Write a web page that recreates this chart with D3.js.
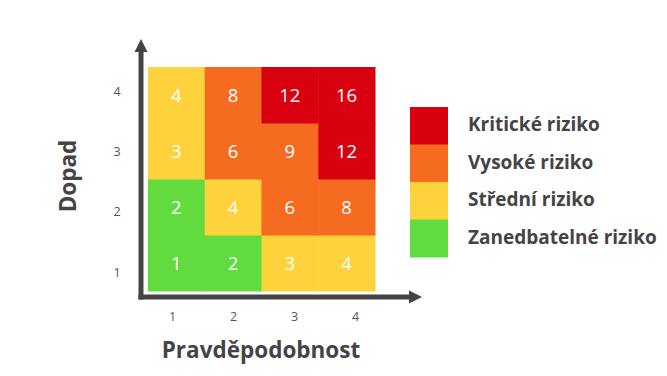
<!DOCTYPE html>
<html><head><meta charset="utf-8">
<script src="https://cdn.jsdelivr.net/npm/d3@7"></script>
<style>html,body{margin:0;padding:0;background:#fff;}svg{display:block;}</style>
</head><body>
<svg id="c" width="667" height="376"></svg>
<script>
const probability = [1, 2, 3, 4];
const impact = [1, 2, 3, 4];
const riskLevels = ["Kritické riziko", "Vysoké riziko", "Střední riziko", "Zanedbatelné riziko"];
const riskColors = ["#d90010", "#f56b1f", "#fdd23c", "#62db3e"];
// level index per cell: rows = impact 1..4, cols = probability 1..4
const cellLevel = [
  [3, 3, 2, 2],
  [3, 2, 1, 1],
  [2, 1, 1, 0],
  [2, 1, 0, 0]
];
const xTitle = "Pravděpodobnost";
const yTitle = "Dopad";

const svg = d3.select("#c");
const dark = "#444";
const titleFont = "Open Sans";

const x = d3.scaleBand().domain(probability).range([148, 375]);
const y = d3.scaleBand().domain(impact).range([291, 67]);
const xt = d3.scalePoint().domain(probability).range([172, 355]);
const yt = d3.scalePoint().domain(impact).range([272, 91]);

const cells = [];
impact.forEach((im, i) => probability.forEach((p, j) => cells.push({p, im, v: p * im, lvl: cellLevel[i][j]})));

svg.append("g").selectAll("rect").data(cells).join("rect")
  .attr("x", d => x(d.p)).attr("y", d => y(d.im))
  .attr("width", x.bandwidth() + 0.5).attr("height", y.bandwidth() + 0.5)
  .attr("fill", d => riskColors[d.lvl]);

svg.append("g").selectAll("text").data(cells).join("text")
  .attr("x", d => x(d.p) + x.bandwidth() / 2)
  .attr("y", d => y(d.im) + y.bandwidth() / 2)
  .attr("dy", "0.36em").attr("text-anchor", "middle")
  .attr("fill", "#fff").attr("font-family", "Open Sans").attr("font-weight", 500).attr("font-size", 18.5)
  .text(d => d.v);

// arrows
const defs = svg.append("defs");
defs.append("marker").attr("id", "ar").attr("viewBox", "0 0 10 10")
  .attr("refX", 0).attr("refY", 5).attr("markerUnits", "userSpaceOnUse")
  .attr("markerWidth", 13).attr("markerHeight", 14).attr("orient", "auto")
  .append("path").attr("d", "M0,0 L10,5 L0,10 Z").attr("fill", dark);

const ox = 141, oy = 297;
svg.append("line").attr("x1", ox).attr("y1", oy + 2.5).attr("x2", ox).attr("y2", 52)
  .attr("stroke", dark).attr("stroke-width", 5).attr("marker-end", "url(#ar)");
svg.append("line").attr("x1", ox - 2.5).attr("y1", oy).attr("x2", 409).attr("y2", oy)
  .attr("stroke", dark).attr("stroke-width", 5).attr("marker-end", "url(#ar)");

// tick labels
const ax = svg.append("g").attr("transform", "translate(0,317)")
  .call(d3.axisBottom(xt).tickSize(0).tickPadding(0));
ax.select(".domain").remove();
ax.selectAll("text").attr("dy", "0.32em").attr("font-family", "Open Sans").attr("font-size", 12.5).attr("fill", "#555");
const ay = svg.append("g").attr("transform", "translate(117,0)")
  .call(d3.axisLeft(yt).tickSize(0).tickPadding(0));
ay.select(".domain").remove();
ay.selectAll("text").attr("text-anchor", "middle").attr("font-family", "Open Sans").attr("font-size", 12.5).attr("fill", "#555");

// titles
svg.append("text").attr("x", 261).attr("y", 350).attr("dy", "0.35em").attr("text-anchor", "middle")
  .attr("font-family", titleFont).attr("font-weight", "bold").attr("font-size", 22.5).attr("fill", dark)
  .text(xTitle);
svg.append("text").attr("transform", "translate(68,176) rotate(-90)").attr("dy", "0.35em").attr("text-anchor", "middle")
  .attr("font-family", titleFont).attr("font-weight", "bold").attr("font-size", 22.5).attr("fill", dark)
  .text(yTitle);

// legend
const ly = d3.scaleBand().domain(riskLevels).range([107, 257]);
const lg = svg.append("g");
lg.selectAll("rect").data(riskLevels).join("rect")
  .attr("x", 410).attr("y", d => ly(d)).attr("width", 38).attr("height", ly.bandwidth() + 0.5)
  .attr("fill", (d, i) => riskColors[i]);
lg.selectAll("text").data(riskLevels).join("text")
  .attr("x", 468).attr("y", d => ly(d) + ly.bandwidth() / 2 - 1).attr("dy", "0.35em")
  .attr("font-family", titleFont).attr("font-weight", "bold").attr("font-size", 19).attr("fill", dark)
  .text(d => d);
</script>
</body></html>
